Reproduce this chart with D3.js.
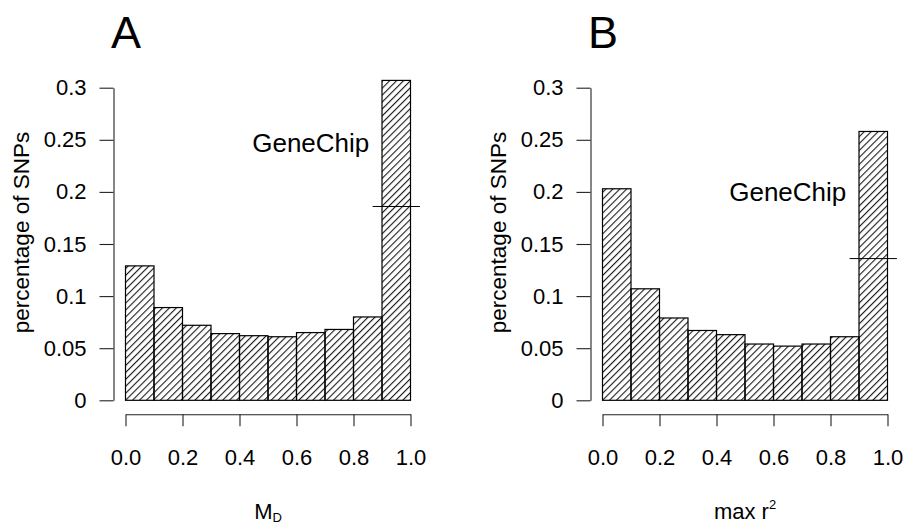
<!DOCTYPE html>
<html>
<head>
<meta charset="utf-8">
<script src="https://cdn.jsdelivr.net/npm/d3@7"></script>
<style>
  body { margin: 0; background: #fff; }
  svg { display: block; font-family: "Liberation Sans", Arial, Helvetica, sans-serif; }
  .axis path, .axis line { stroke: #222; stroke-width: 1.1; }
  .axis text { font-size: 22px; fill: #000; }
</style>
</head>
<body>
<div id="chart"></div>
<script>
// bins (left edges, width 0.1) and share of SNPs per bin
const binStarts = [0.0, 0.1, 0.2, 0.3, 0.4, 0.5, 0.6, 0.7, 0.8, 0.9];
const binWidth = 0.1;
const mdShare = [0.129, 0.089, 0.072, 0.064, 0.062, 0.061, 0.065, 0.068, 0.080, 0.307];
const maxR2Share = [0.203, 0.107, 0.079, 0.067, 0.063, 0.054, 0.052, 0.054, 0.061, 0.258];

// GeneChip reference level drawn across the last bin
const geneChipMd = 0.186;
const geneChipMaxR2 = 0.136;

const yTicks = [0, 0.05, 0.1, 0.15, 0.2, 0.25, 0.3];
const yTickLabels = ['0', '0.05', '0.1', '0.15', '0.2', '0.25', '0.3'];
const xTicks = [0, 0.2, 0.4, 0.6, 0.8, 1.0];
const xTickLabels = ['0.0', '0.2', '0.4', '0.6', '0.8', '1.0'];

const width = 904;
const height = 525;

const panels = [
  { letter: 'A', left: 125.5, values: mdShare, refLevel: geneChipMd, labelY: 0.247, xTitle: ['M', 'D', 'sub'] },
  { letter: 'B', left: 602.5, values: maxR2Share, refLevel: geneChipMaxR2, labelY: 0.2, xTitle: ['max r', '2', 'sup'] }
];

const plotTop = 87.7;
const plotW = 285;
const plotH = 312.6;

const svg = d3.select('#chart')
  .append('svg')
  .attr('width', width)
  .attr('height', height);

// diagonal hatching like R's density/angle fill
const defs = svg.append('defs');
defs.append('pattern')
  .attr('id', 'hatch')
  .attr('patternUnits', 'userSpaceOnUse')
  .attr('width', 4.9)
  .attr('height', 4.9)
  .attr('patternTransform', 'rotate(-45)')
  .append('line')
  .attr('x1', 0).attr('y1', 0.6)
  .attr('x2', 4.9).attr('y2', 0.6)
  .attr('stroke', '#000')
  .attr('stroke-width', 1);

let x = d3.scaleLinear().domain([0, 1]).range([0, plotW]);
let y = d3.scaleLinear().domain([0, 0.3]).range([plotH, 0]);

panels.forEach(p => {
  let g = svg.append('g')
    .attr('transform', `translate(${p.left},${plotTop})`);

  // bars
  g.selectAll('rect.bar')
    .data(p.values)
    .enter()
    .append('rect')
    .attr('class', 'bar')
    .attr('x', (d, i) => x(binStarts[i]))
    .attr('y', d => y(d))
    .attr('width', (d, i) => x(binStarts[i] + binWidth) - x(binStarts[i]))
    .attr('height', d => y(0) - y(d))
    .attr('fill', 'url(#hatch)')
    .attr('stroke', '#000')
    .attr('stroke-width', 1.2);

  // GeneChip level over the last bin
  let last = binStarts[binStarts.length - 1];
  g.append('line')
    .attr('x1', x(last - 0.033))
    .attr('x2', x(last + binWidth + 0.033))
    .attr('y1', y(p.refLevel))
    .attr('y2', y(p.refLevel))
    .attr('stroke', '#000')
    .attr('stroke-width', 1);

  g.append('text')
    .attr('x', x(0.65))
    .attr('y', y(p.labelY))
    .attr('dy', '0.36em')
    .attr('text-anchor', 'middle')
    .style('font-size', '26px')
    .text('GeneChip');

  // y axis, set off from the bars
  g.append('g')
    .attr('class', 'axis')
    .attr('transform', 'translate(-12,0)')
    .call(d3.axisLeft(y)
      .tickValues(yTicks)
      .tickFormat((d, i) => yTickLabels[i])
      .tickSize(14)
      .tickSizeOuter(0)
      .tickPadding(13));

  // x axis below the bars
  g.append('g')
    .attr('class', 'axis')
    .attr('transform', `translate(0,${plotH + 14})`)
    .call(d3.axisBottom(x)
      .tickValues(xTicks)
      .tickFormat((d, i) => xTickLabels[i])
      .tickSize(12)
      .tickSizeOuter(0)
      .tickPadding(23));

  // axis titles
  g.append('text')
    .attr('transform', `translate(-96.5,${232.5 - plotTop}) rotate(-90)`)
    .attr('text-anchor', 'middle')
    .style('font-size', '22.5px')
    .text('percentage of SNPs');

  let xt = g.append('text')
    .attr('x', plotW / 2)
    .attr('y', 519.5 - plotTop)
    .attr('text-anchor', 'middle')
    .style('font-size', '22px');
  xt.append('tspan').text(p.xTitle[0]);
  xt.append('tspan')
    .attr('dy', p.xTitle[2] === 'sub' ? 3 : -10)
    .style('font-size', '13px')
    .text(p.xTitle[1]);

  // panel letter
  svg.append('text')
    .attr('x', p.left - 14.5)
    .attr('y', 48)
    .style('font-size', '45px')
    .text(p.letter);
});
</script>
</body>
</html>
